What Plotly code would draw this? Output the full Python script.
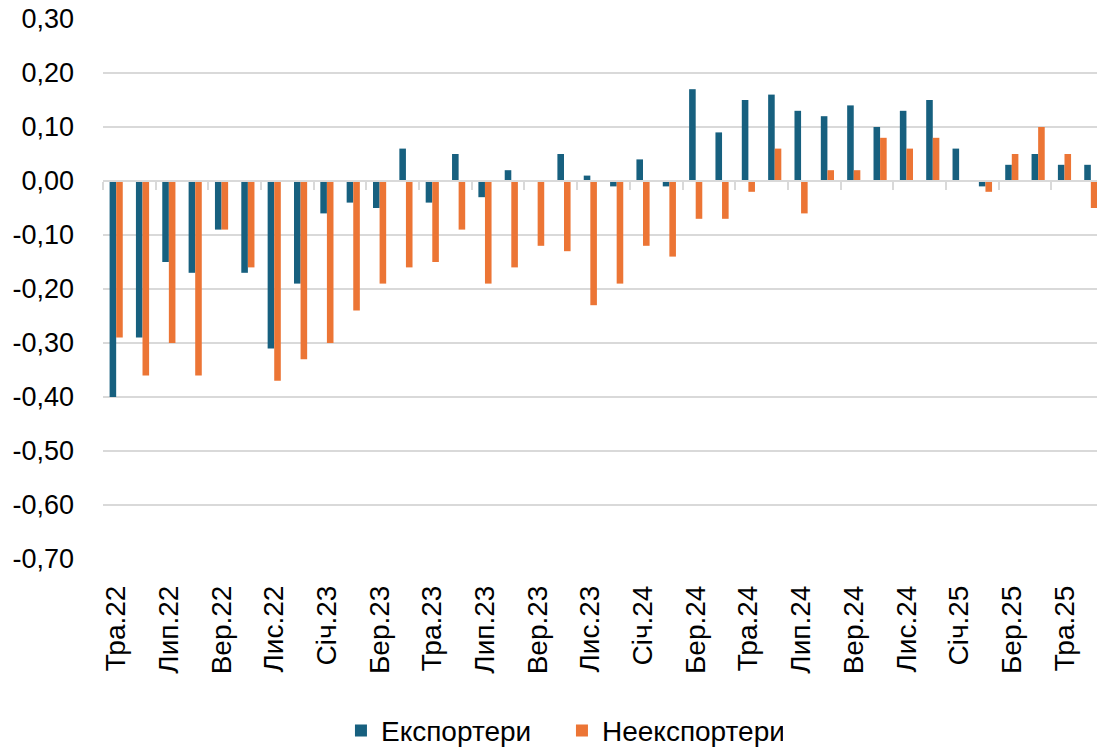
import plotly.graph_objects as go

months = ["Тра.22", "Чер.22", "Лип.22", "Сер.22", "Вер.22", "Жов.22", "Лис.22", "Гру.22",
          "Січ.23", "Лют.23", "Бер.23", "Кві.23", "Тра.23", "Чер.23", "Лип.23", "Сер.23",
          "Вер.23", "Жов.23", "Лис.23", "Гру.23", "Січ.24", "Лют.24", "Бер.24", "Кві.24",
          "Тра.24", "Чер.24", "Лип.24", "Сер.24", "Вер.24", "Жов.24", "Лис.24", "Гру.24",
          "Січ.25", "Лют.25", "Бер.25", "Кві.25", "Тра.25", "Чер.25"]

exporters = [-0.40, -0.29, -0.15, -0.17, -0.09, -0.17, -0.31, -0.19,
             -0.06, -0.04, -0.05, 0.06, -0.04, 0.05, -0.03, 0.02,
             0.00, 0.05, 0.01, -0.01, 0.04, -0.01, 0.17, 0.09,
             0.15, 0.16, 0.13, 0.12, 0.14, 0.10, 0.13, 0.15,
             0.06, -0.01, 0.03, 0.05, 0.03, 0.03]

non_exporters = [-0.29, -0.36, -0.30, -0.36, -0.09, -0.16, -0.37, -0.33,
                 -0.30, -0.24, -0.19, -0.16, -0.15, -0.09, -0.19, -0.16,
                 -0.12, -0.13, -0.23, -0.19, -0.12, -0.14, -0.07, -0.07,
                 -0.02, 0.06, -0.06, 0.02, 0.02, 0.08, 0.06, 0.08,
                 0.00, -0.02, 0.05, 0.10, 0.05, -0.05]

y_ticks = [0.30, 0.20, 0.10, 0.00, -0.10, -0.20, -0.30, -0.40, -0.50, -0.60, -0.70]
y_tick_labels = ["0,30", "0,20", "0,10", "0,00", "-0,10", "-0,20", "-0,30", "-0,40",
                 "-0,50", "-0,60", "-0,70"]

series_names = ["Експортери", "Неекспортери"]
colors = ["#17607F", "#EC7535"]

FONT = "Liberation Sans"
GRID = "#D9D9D9"
n = len(months)

fig = go.Figure()
fig.add_trace(go.Bar(x=months, y=exporters, name=series_names[0],
                     marker=dict(color=colors[0], line=dict(width=0))))
fig.add_trace(go.Bar(x=months, y=non_exporters, name=series_names[1],
                     marker=dict(color=colors[1], line=dict(width=0))))
# helper trace so the zero-level axis with boundary ticks is rendered
fig.add_trace(go.Scatter(x=[], y=[], xaxis="x2", showlegend=False, hoverinfo="skip"))

fig.update_layout(
    width=1104, height=749,
    margin=dict(l=103, r=0, t=19, b=190, autoexpand=False),
    paper_bgcolor="white", plot_bgcolor="white",
    barmode="group", bargap=0.5, bargroupgap=0,
    font=dict(family=FONT, size=26, color="#000000"),
    xaxis=dict(type="category", range=[-0.5, n - 0.5], automargin=False,
               tickmode="array", tickvals=months[::2], ticktext=months[::2],
               tickangle=-90, ticks="", showgrid=False, showline=False,
               ticklabelstandoff=20, tickfont=dict(size=28)),
    xaxis2=dict(overlaying="x", anchor="free", position=0.7, side="bottom",
                range=[-0.5, n - 0.5], showgrid=False, showline=True,
                linecolor=GRID, linewidth=1.5, ticks="outside", ticklen=8,
                tickcolor=GRID, tickwidth=1.5, tickmode="array",
                tickvals=[i - 0.5 for i in range(0, n + 1, 2)],
                showticklabels=False, zeroline=False, automargin=False),
    yaxis=dict(range=[-0.70, 0.30], tickmode="array", tickvals=y_ticks,
               ticktext=y_tick_labels, showgrid=True, gridcolor=GRID, gridwidth=1.5,
               zeroline=True, zerolinecolor=GRID, zerolinewidth=1.5, automargin=False,
               ticks="", ticklabelstandoff=28, tickfont=dict(size=27)),
    legend=dict(orientation="h", x=0.4585, xanchor="center", y=-0.318, yanchor="middle",
                font=dict(size=28), traceorder="normal", itemsizing="constant",
                entrywidth=176, entrywidthmode="pixels"),
    showlegend=True,
)

fig.write_html("out.html", config={"displayModeBar": False},
               post_script="document.body.style.margin='0';document.body.style.overflow='hidden';")
